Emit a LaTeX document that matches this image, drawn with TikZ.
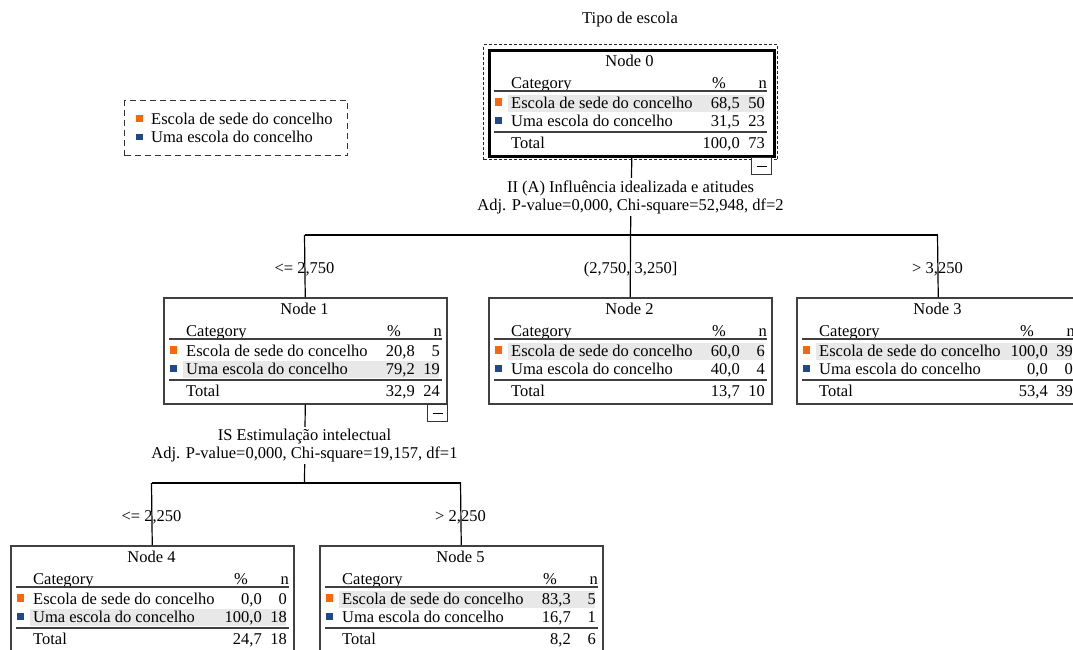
\documentclass[tikz,border=0pt]{standalone}
\usepackage{fontspec}
\setmainfont{Liberation Serif}
\definecolor{spssorange}{RGB}{255,102,0}
\definecolor{spssblue}{RGB}{31,73,140}
\definecolor{hlgray}{RGB}{232,232,232}
\newcommand\tf{\fontsize{16.5}{18}\selectfont}

% #1 name, #2 title, #3 highlight row centre (54 or 72)
\newcommand\nodeframe[3]{%
  \fill[hl] (20,{#3-8.5}) rectangle (276,{#3+8.5});
  \node[nodebox] (#1) at (0,0) {};
  \node[txt, anchor=base] (#1-title) at (141.5,17) {#2};
  \node[txt, anchor=base west] (#1-cat) at (23,39) {Category};
  \node[txt, anchor=base] (#1-pct) at (231,39) {\%};
  \node[txt, anchor=base east] (#1-n) at (279,39) {n};
  \draw[rule] (6,42) -- (279,42);
  \fill[spssorange] (7,49) rectangle (14,57);
  \node[txt, anchor=base west] (#1-r1) at (23,59) {Escola de sede do concelho};
  \fill[spssblue] (7,68) rectangle (14,75);
  \node[txt, anchor=base west] (#1-r2) at (23,77) {Uma escola do concelho};
  \draw[rule] (6,83) -- (279,83);
  \node[txt, anchor=base west] (#1-tot) at (23,99) {Total};
}
\newcommand\rowvals[4]{%
  \node[txt, anchor=base east] (#1-p#2) at (252,#4) {#3};
}
\newcommand\nvals[4]{%
  \node[txt, anchor=base east] (#1-c#2) at (277,#4) {#3};
}
\newcommand\nodevals[7]{%
  \rowvals{#1}{1}{#2}{59}\nvals{#1}{1}{#3}{59}%
  \rowvals{#1}{2}{#4}{77}\nvals{#1}{2}{#5}{77}%
  \rowvals{#1}{3}{#6}{99}\nvals{#1}{3}{#7}{99}%
}

\begin{document}
\begin{tikzpicture}[x=1pt,y=-1pt,
  txt/.style={inner sep=0pt, font=\tf},
  nodebox/.style={draw=black!75, line width=1.5pt, minimum width=283pt, minimum height=106pt, inner sep=0pt, anchor=north west},
  rule/.style={draw=black!75, line width=1.6pt},
  conn/.style={draw=black, line width=1.2pt},
  hl/.style={fill=hlgray},
  minusbox/.style={draw=black!80, fill=white, line width=1pt, minimum width=20pt, minimum height=17pt, inner sep=0pt, anchor=north west},
  splitlbl/.style={txt, anchor=base, fill=white, inner xsep=2pt, inner ysep=2pt}
]
\useasboundingbox (0,0) rectangle (1073,649);
\clip (0,0) rectangle (1073,649);

% title
\node[txt, anchor=base] (title) at (630,23) {Tipo de escola};

% legend
\node[draw=black!80, dash pattern=on 6pt off 4pt, line width=1pt, minimum width=223pt, minimum height=55pt, anchor=north west, inner sep=0pt] (legend) at (124,100) {};
\fill[spssorange] (136,115) rectangle (143,122);
\node[txt, anchor=base west] (leg1) at (151,124) {Escola de sede do concelho};
\fill[spssblue] (136,134) rectangle (143,140);
\node[txt, anchor=base west] (leg2) at (151,142) {Uma escola do concelho};

% connector junctions
\coordinate (b0) at (630.5,235);
\coordinate (b0l) at (304.5,235);
\coordinate (b0r) at (937.5,235);
\coordinate (b1) at (304.5,483);
\coordinate (b1l) at (151.5,483);
\coordinate (b1r) at (460.5,483);

% node 0
\node[draw=black!85, dash pattern=on 3pt off 2pt, line width=1.4pt, minimum width=294pt, minimum height=115pt, anchor=north west, inner sep=0pt] (n0-outer) at (483,44) {};
\begin{scope}[shift={(488,49)}, nodebox/.append style={draw=black, line width=2.6pt, minimum width=285pt}]
  \nodeframe{n0}{Node 0}{54}
  \nodevals{n0}{68,5}{50}{31,5}{23}{100,0}{73}
\end{scope}
\node[minusbox] (n0-minus) at (751,157) {};
\draw[line width=1pt] ([xshift=-5pt]n0-minus.center) -- ([xshift=5pt]n0-minus.center);

\begin{scope}[shift={(163,297)}]
  \nodeframe{n1}{Node 1}{72}
  \nodevals{n1}{20,8}{5}{79,2}{19}{32,9}{24}
\end{scope}
\node[minusbox] (n1-minus) at (427,404) {};
\draw[line width=1pt] ([xshift=-5pt]n1-minus.center) -- ([xshift=5pt]n1-minus.center);

\begin{scope}[shift={(488,297)}]
  \nodeframe{n2}{Node 2}{54}
  \nodevals{n2}{60,0}{6}{40,0}{4}{13,7}{10}
\end{scope}

\begin{scope}[shift={(796,297)}]
  \nodeframe{n3}{Node 3}{54}
  \nodevals{n3}{100,0}{39}{0,0}{0}{53,4}{39}
\end{scope}

\begin{scope}[shift={(10,545)}]
  \nodeframe{n4}{Node 4}{72}
  \nodevals{n4}{0,0}{0}{100,0}{18}{24,7}{18}
\end{scope}

\begin{scope}[shift={(319,545)}]
  \nodeframe{n5}{Node 5}{54}
  \nodevals{n5}{83,3}{5}{16,7}{1}{8,2}{6}
\end{scope}

% tree connectors
\draw[conn] (n0.south) -- (b0);
\draw[conn] (b0l) -- (b0r);
\draw[conn] (b0l) -- (n1.north);
\draw[conn] (b0) -- (n2.north);
\draw[conn] (b0r) -- (n3.north);
\draw[conn] (n1.south) -- (b1);
\draw[conn] (b1l) -- (b1r);
\draw[conn] (b1l) -- (n4.north);
\draw[conn] (b1r) -- (n5.north);

% split labels
\node[splitlbl] (s0a) at (630.5,192) {II (A) Influência idealizada e atitudes};
\node[splitlbl] (s0b) at (630.5,210) {Adj. P-value=0,000, Chi-square=52,948, df=2};
\node[splitlbl] (s1a) at (304.5,440) {IS Estimulação intelectual};
\node[splitlbl] (s1b) at (304.5,458) {Adj. P-value=0,000, Chi-square=19,157, df=1};

% branch labels
\node[txt, anchor=base] (e1) at (304.5,273) {<= 2,750};
\node[txt, anchor=base] (e2) at (630.5,273) {(2,750, 3,250]};
\node[txt, anchor=base] (e3) at (937.5,273) {> 3,250};
\node[txt, anchor=base] (e4) at (151.5,521) {<= 2,250};
\node[txt, anchor=base] (e5) at (460.5,521) {> 2,250};
\end{tikzpicture}
\end{document}
